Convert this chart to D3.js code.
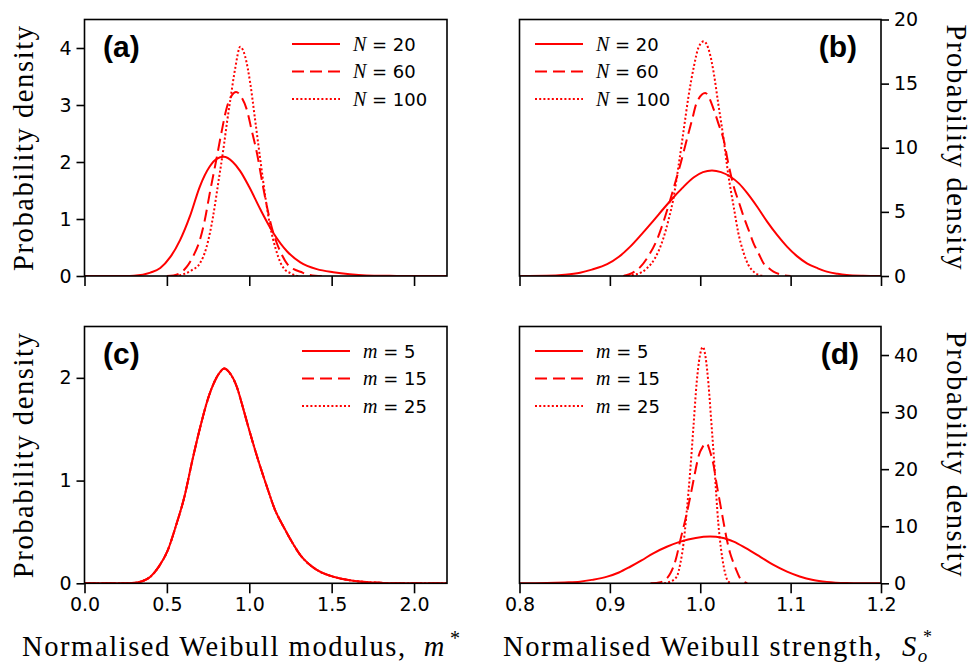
<html>
<head>
	<title>Weibull modulus / strength densities</title>
	<script src="https://d3js.org/d3.v7.min.js"></script>
	<style type="text/css">
		body {
			margin: 0;
			padding: 0;
			background: #fff;
		}
		#chart {
			margin: 0;
			padding: 0;
		}
	</style>
</head>
<body>

<div id="chart"></div>

<script>

// tick values
var xTicksMod = [0, 0.5, 1.0, 1.5, 2.0],
	xTicksStr = [0.8, 0.9, 1.0, 1.1, 1.2],
	yTicksA = [0, 1, 2, 3, 4],
	yTicksB = [0, 5, 10, 15, 20],
	yTicksC = [0, 1, 2],
	yTicksD = [0, 10, 20, 30, 40];

// legend entries
var legendN = ["20", "60", "100"],
	legendM = ["5", "15", "25"];

// (a) normalised modulus, N = 20 / 60 / 100  -- [x, density]
var aN20 = [[0,0],[0.25,0],[0.30,0.005],[0.40,0.06],[0.46,0.14],[0.52,0.33],[0.58,0.63],[0.64,1.05],[0.70,1.57],[0.76,1.92],[0.80,2.05],[0.845,2.09],[0.90,2.0],[0.945,1.84],[1.0,1.56],[1.067,1.17],[1.147,0.75],[1.23,0.43],[1.31,0.24],[1.41,0.12],[1.51,0.065],[1.61,0.03],[1.71,0.01],[1.85,0.003],[2.0,0],[2.2,0]];
var aN60 = [[0.50,0],[0.54,0.01],[0.58,0.05],[0.62,0.16],[0.66,0.35],[0.70,0.63],[0.73,0.98],[0.76,1.45],[0.80,2.04],[0.83,2.5],[0.865,2.97],[0.89,3.15],[0.92,3.23],[0.95,3.15],[0.986,2.91],[1.015,2.55],[1.047,2.15],[1.075,1.7],[1.107,1.22],[1.135,0.87],[1.168,0.57],[1.20,0.36],[1.228,0.22],[1.27,0.12],[1.31,0.075],[1.35,0.03],[1.40,0.005],[1.45,0]];
var aN100 = [[0.55,0],[0.60,0.03],[0.65,0.1],[0.70,0.22],[0.74,0.5],[0.78,1.04],[0.81,1.6],[0.845,2.27],[0.865,2.7],[0.885,3.09],[0.915,3.65],[0.945,4.02],[0.975,3.85],[1.006,3.38],[1.035,2.75],[1.067,2.04],[1.097,1.4],[1.127,0.87],[1.16,0.48],[1.19,0.23],[1.22,0.1],[1.25,0.05],[1.28,0.01],[1.30,0]];

// (b) normalised strength, N = 20 / 60 / 100
var bN20 = [[0.80,0],[0.83,0.02],[0.85,0.1],[0.867,0.26],[0.88,0.5],[0.897,0.92],[0.91,1.5],[0.9225,2.29],[0.935,3.25],[0.948,4.3],[0.96,5.3],[0.970,6.1],[0.98,6.85],[0.993,7.7],[1.003,8.1],[1.013,8.23],[1.023,8.1],[1.033,7.76],[1.043,7.2],[1.052,6.46],[1.063,5.4],[1.074,4.24],[1.085,3.2],[1.096,2.29],[1.107,1.55],[1.118,0.99],[1.13,0.6],[1.140,0.34],[1.152,0.17],[1.162,0.08],[1.18,0.02],[1.2,0]];
var bN60 = [[0.915,0],[0.925,0.25],[0.934,0.73],[0.943,1.6],[0.952,2.81],[0.961,4.6],[0.970,6.72],[0.978,8.7],[0.985,10.6],[0.991,12.2],[0.996,13.5],[1.0055,14.27],[1.015,12.97],[1.02,11.9],[1.026,10.6],[1.031,8.8],[1.037,6.98],[1.043,5.7],[1.048,4.63],[1.054,3.5],[1.059,2.55],[1.065,1.7],[1.070,0.99],[1.076,0.6],[1.081,0.34],[1.09,0.1],[1.10,0]];
var bN100 = [[0.915,0],[0.93,0.15],[0.941,0.6],[0.95,1.4],[0.959,2.9],[0.965,4.4],[0.970,5.94],[0.976,8.6],[0.9815,11.3],[0.987,14.0],[0.993,16.35],[0.998,17.8],[1.004,18.3],[1.01,17.5],[1.015,15.8],[1.02,13.4],[1.026,10.6],[1.031,7.9],[1.037,5.4],[1.042,3.4],[1.048,1.8],[1.053,0.9],[1.059,0.34],[1.065,0.08],[1.07,0]];

// (c) normalised modulus, m = 5 / 15 / 25 (the three curves lie on top of each other)
var cM5 = [[0,0],[0.25,0],[0.30,0.005],[0.35,0.02],[0.40,0.064],[0.45,0.16],[0.505,0.32],[0.555,0.56],[0.606,0.84],[0.655,1.2],[0.707,1.55],[0.75,1.8],[0.788,1.96],[0.82,2.05],[0.848,2.09],[0.88,2.05],[0.925,1.91],[0.96,1.72],[1.0,1.49],[1.05,1.22],[1.107,0.94],[1.155,0.72],[1.208,0.55],[1.26,0.40],[1.31,0.275],[1.36,0.19],[1.41,0.13],[1.51,0.064],[1.61,0.03],[1.71,0.012],[1.81,0.004],[1.95,0],[2.2,0]];
var cM15 = cM5,
	cM25 = cM5;

// (d) normalised strength, m = 5 / 15 / 25
var dM5 = [[0.80,0],[0.83,0.05],[0.85,0.15],[0.867,0.29],[0.88,0.6],[0.897,1.17],[0.91,1.9],[0.9225,2.9],[0.935,4.0],[0.948,5.26],[0.963,6.4],[0.978,7.3],[0.995,7.95],[1.011,8.19],[1.024,8.0],[1.037,7.3],[1.05,6.2],[1.066,4.68],[1.08,3.3],[1.096,2.05],[1.11,1.2],[1.125,0.58],[1.14,0.25],[1.162,0.05],[1.18,0.01],[1.2,0]];
var dM15 = [[0.945,0],[0.956,0.2],[0.962,0.7],[0.967,1.75],[0.973,4.2],[0.978,7.6],[0.984,11.5],[0.989,15.2],[0.994,19.2],[0.998,22.2],[1.003,24.0],[1.007,24.56],[1.011,23.0],[1.015,20.5],[1.018,17.5],[1.022,14.0],[1.026,10.5],[1.0295,7.6],[1.033,5.3],[1.037,3.5],[1.041,1.9],[1.044,0.88],[1.048,0.3],[1.052,0]];
var dM25 = [[0.96,0],[0.967,0.3],[0.974,1.17],[0.978,3.5],[0.9815,7.0],[0.985,12.5],[0.989,19.9],[0.9925,27.5],[0.996,35.1],[0.9995,39.8],[1.003,41.4],[1.006,39.5],[1.009,35.1],[1.012,28.8],[1.015,22.2],[1.0175,16.0],[1.020,10.5],[1.023,6.0],[1.026,2.9],[1.0285,1.2],[1.031,0.3],[1.035,0]];

var ww = 971,
	wh = 665;

var red = "#ff0000",
	dashes = [null, "12,6", "2,2.2"],
	tickFont = "DejaVu Sans",
	serif = "Liberation Serif";

var panels = [
	{ tag: "(a)", x0: 84.5, x1: 447, y0: 19.5, y1: 276, xDomain: [0, 2.2], yDomain: [0, 4.5],
	  xTicks: xTicksMod, yTicks: yTicksA, side: "left", xLabels: false,
	  series: [aN20, aN60, aN100], legVar: "N", legend: legendN, legX: 292, tagX: 103, tagAnchor: "start" },
	{ tag: "(b)", x0: 519.5, x1: 881, y0: 19.5, y1: 276, xDomain: [0.8, 1.2], yDomain: [0, 20],
	  xTicks: xTicksStr, yTicks: yTicksB, side: "right", xLabels: false,
	  series: [bN20, bN60, bN100], legVar: "N", legend: legendN, legX: 535, tagX: 857, tagAnchor: "end" },
	{ tag: "(c)", x0: 84.5, x1: 447, y0: 326.5, y1: 583.3, xDomain: [0, 2.2], yDomain: [0, 2.5],
	  xTicks: xTicksMod, yTicks: yTicksC, side: "left", xLabels: true,
	  series: [cM5, cM15, cM25], legVar: "m", legend: legendM, legX: 302, tagX: 103, tagAnchor: "start" },
	{ tag: "(d)", x0: 519.5, x1: 881, y0: 326.5, y1: 583.3, xDomain: [0.8, 1.2], yDomain: [0, 45],
	  xTicks: xTicksStr, yTicks: yTicksD, side: "right", xLabels: true,
	  series: [dM5, dM15, dM25], legVar: "m", legend: legendM, legX: 535, tagX: 859, tagAnchor: "end" }
];

var svg = d3.select("#chart").append("svg")
	.attr("width", ww)
	.attr("height", wh)
	.style("display", "block");

panels.forEach(function(p, i) {
	var x = d3.scaleLinear().domain(p.xDomain).range([p.x0, p.x1]);
	var y = d3.scaleLinear().domain(p.yDomain).range([p.y1, p.y0]);

	var g = svg.append("g");

	svg.append("clipPath").attr("id", "clip" + i)
		.append("rect")
		.attr("x", p.x0).attr("y", p.y0)
		.attr("width", p.x1 - p.x0).attr("height", p.y1 - p.y0);

	var line = d3.line()
		.x(function(d) { return x(d[0]); })
		.y(function(d) { return y(d[1]); })
		.curve(d3.curveMonotoneX);

	// curves
	var curves = g.append("g").attr("clip-path", "url(#clip" + i + ")");
	p.series.forEach(function(s, k) {
		curves.append("path")
			.datum(s)
			.attr("d", line)
			.attr("fill", "none")
			.attr("stroke", red)
			.attr("stroke-width", 2)
			.attr("stroke-dasharray", dashes[k]);
	});

	// x axis
	var xAxis = d3.axisBottom(x)
		.tickValues(p.xTicks)
		.tickSize(10)
		.tickPadding(4)
		.tickFormat(p.xLabels ? d3.format(".1f") : "");
	var gx = g.append("g")
		.attr("transform", "translate(0," + p.y1 + ")")
		.call(xAxis);

	// y axis
	var yAxis = (p.side == "left" ? d3.axisLeft(y) : d3.axisRight(y))
		.tickValues(p.yTicks)
		.tickSize(8)
		.tickPadding(5)
		.tickFormat(d3.format("d"));
	var gy = g.append("g")
		.attr("transform", "translate(" + (p.side == "left" ? p.x0 : p.x1) + ",0)")
		.call(yAxis);

	[gx, gy].forEach(function(a) {
		a.select(".domain").remove();
		a.selectAll("line").attr("stroke", "#000").attr("stroke-width", 1.6);
		a.selectAll("text")
			.attr("fill", "#000")
			.style("font-family", tickFont)
			.style("font-size", "19px");
	});

	// frame
	g.append("rect")
		.attr("x", p.x0).attr("y", p.y0)
		.attr("width", p.x1 - p.x0).attr("height", p.y1 - p.y0)
		.attr("fill", "none")
		.attr("stroke", "#000")
		.attr("stroke-width", 1.6);

	// panel tag
	g.append("text")
		.attr("x", p.tagX)
		.attr("y", p.y0 + 37.5)
		.attr("text-anchor", p.tagAnchor)
		.style("font-family", "Liberation Sans")
		.style("font-weight", "bold")
		.style("font-size", "30px")
		.text(p.tag);

	// legend
	var rows = [24.5, 52, 79.5];
	p.legend.forEach(function(lab, k) {
		var ly = p.y0 + rows[k];
		g.append("line")
			.attr("x1", p.legX).attr("x2", p.legX + 48)
			.attr("y1", ly).attr("y2", ly)
			.attr("stroke", red)
			.attr("stroke-width", 2)
			.attr("stroke-dasharray", dashes[k]);
		var t = g.append("text")
			.attr("x", p.legX + 61)
			.attr("y", ly + 6.5)
			.style("font-family", tickFont)
			.style("font-size", "18px");
		t.append("tspan")
			.style("font-family", serif)
			.style("font-style", "italic")
			.style("font-size", "20px")
			.text(p.legVar);
		t.append("tspan").text(" = " + lab);
	});

	// y axis title
	var cy = (p.y0 + p.y1) / 2;
	var tx = p.side == "left" ? 33 : 947;
	g.append("text")
		.attr("transform", "translate(" + tx + "," + cy + ") rotate(" + (p.side == "left" ? -90 : 90) + ")")
		.attr("text-anchor", "middle")
		.style("font-family", serif)
		.style("font-size", "28.5px")
		.style("letter-spacing", "1.6px")
		.text("Probability density");
});

// x axis titles
var titleY = 656;
var t1 = svg.append("text")
	.attr("x", 22).attr("y", titleY)
	.style("font-family", serif)
	.style("font-size", "28.5px")
	.style("letter-spacing", "1.6px");
t1.append("tspan").text("Normalised Weibull modulus,");
t1.append("tspan").attr("dx", 17).style("font-style", "italic").text("m");
t1.append("tspan").attr("dx", 4).attr("dy", -11).style("font-size", "20px").text("*");

var t2 = svg.append("text")
	.attr("x", 503).attr("y", titleY)
	.style("font-family", serif)
	.style("font-size", "28.5px")
	.style("letter-spacing", "1.6px");
t2.append("tspan").text("Normalised Weibull strength,");
t2.append("tspan").attr("dx", 19).style("font-style", "italic").text("S");
t2.append("tspan").attr("dy", 6).style("font-size", "19px").style("font-style", "italic").text("o");
t2.append("tspan").attr("dx", -6).attr("dy", -19).style("font-size", "18px").text("*");

</script>
</body>
</html>
